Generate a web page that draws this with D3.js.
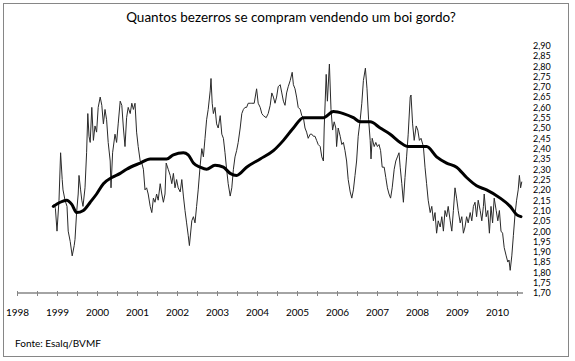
<!DOCTYPE html>
<html lang="pt">
<head>
    <meta charset="UTF-8">
    <title>Quantos bezerros se compram vendendo um boi gordo?</title>
    <script src="https://d3js.org/d3.v7.min.js"></script>
    <style>
        body { margin: 0; background: #fff; }
        svg text { font-family: Lato, "Open Sans", sans-serif; fill: #000; }
    </style>
</head>
<body>
    <div id="chart"></div>
    <script>
        // weekly ratio: boi gordo / bezerro
        const ratioDates = [
            1998.88, 1998.93, 1998.96, 1999.00, 1999.05, 1999.09, 1999.13, 1999.15, 1999.20, 1999.25,
            1999.28, 1999.33, 1999.38, 1999.43, 1999.45, 1999.49, 1999.53, 1999.55, 1999.59, 1999.62,
            1999.65, 1999.70, 1999.74, 1999.77, 1999.80, 1999.83, 1999.87, 1999.91, 1999.95, 1999.99,
            2000.03, 2000.08, 2000.12, 2000.16, 2000.20, 2000.24, 2000.28, 2000.33, 2000.35, 2000.39,
            2000.45, 2000.49, 2000.53, 2000.58, 2000.62, 2000.66, 2000.70, 2000.74, 2000.78, 2000.83,
            2000.87, 2000.91, 2000.95, 2000.99, 2001.03, 2001.08, 2001.12, 2001.16, 2001.20, 2001.24,
            2001.28, 2001.33, 2001.37, 2001.41, 2001.45, 2001.49, 2001.53, 2001.58, 2001.62, 2001.66,
            2001.70, 2001.73, 2001.78, 2001.83, 2001.87, 2001.91, 2001.95, 2001.99, 2002.03, 2002.08,
            2002.12, 2002.16, 2002.20, 2002.24, 2002.28, 2002.31, 2002.37, 2002.41, 2002.45, 2002.49,
            2002.53, 2002.58, 2002.62, 2002.66, 2002.70, 2002.74, 2002.78, 2002.83, 2002.85, 2002.88,
            2002.91, 2002.95, 2002.99, 2003.03, 2003.08, 2003.12, 2003.16, 2003.20, 2003.24, 2003.28,
            2003.33, 2003.37, 2003.41, 2003.45, 2003.49, 2003.53, 2003.58, 2003.62, 2003.66, 2003.70,
            2003.74, 2003.78, 2003.83, 2003.87, 2003.93, 2003.99, 2004.03, 2004.08, 2004.12, 2004.16,
            2004.23, 2004.28, 2004.33, 2004.37, 2004.41, 2004.45, 2004.49, 2004.53, 2004.58, 2004.62,
            2004.66, 2004.70, 2004.74, 2004.78, 2004.83, 2004.88, 2004.91, 2004.95, 2004.99, 2005.03,
            2005.08, 2005.12, 2005.16, 2005.20, 2005.24, 2005.28, 2005.33, 2005.37, 2005.41, 2005.45,
            2005.49, 2005.53, 2005.58, 2005.62, 2005.66, 2005.68, 2005.73, 2005.76, 2005.81, 2005.85,
            2005.89, 2005.93, 2005.97, 2005.99, 2006.03, 2006.08, 2006.12, 2006.16, 2006.20, 2006.24,
            2006.28, 2006.33, 2006.37, 2006.41, 2006.45, 2006.49, 2006.53, 2006.58, 2006.62, 2006.66,
            2006.71, 2006.75, 2006.79, 2006.83, 2006.85, 2006.88, 2006.93, 2006.97, 2007.01, 2007.05,
            2007.09, 2007.13, 2007.18, 2007.22, 2007.26, 2007.30, 2007.34, 2007.38, 2007.43, 2007.47,
            2007.51, 2007.55, 2007.58, 2007.62, 2007.66, 2007.70, 2007.74, 2007.78, 2007.83, 2007.85,
            2007.89, 2007.93, 2007.98, 2008.02, 2008.06, 2008.10, 2008.16, 2008.20, 2008.24, 2008.28,
            2008.33, 2008.37, 2008.41, 2008.45, 2008.49, 2008.53, 2008.58, 2008.62, 2008.66, 2008.70,
            2008.74, 2008.78, 2008.83, 2008.87, 2008.91, 2008.95, 2008.99, 2009.03, 2009.08, 2009.12,
            2009.16, 2009.20, 2009.24, 2009.28, 2009.33, 2009.37, 2009.41, 2009.45, 2009.49, 2009.53,
            2009.58, 2009.62, 2009.66, 2009.68, 2009.73, 2009.77, 2009.81, 2009.85, 2009.89, 2009.93,
            2009.98, 2010.02, 2010.06, 2010.10, 2010.14, 2010.18, 2010.23, 2010.27, 2010.30, 2010.33,
            2010.37, 2010.41, 2010.45, 2010.49, 2010.53, 2010.56, 2010.59, 2010.62
        ];
        const ratioValues = [
            2.12, 2.13, 2.11, 2.00, 2.15, 2.38, 2.25, 2.20, 2.15, 2.12,
            2.00, 1.95, 1.88, 1.93, 1.96, 2.09, 2.18, 2.27, 2.20, 2.15,
            2.12, 2.21, 2.38, 2.57, 2.46, 2.43, 2.60, 2.44, 2.51, 2.48,
            2.60, 2.65, 2.61, 2.52, 2.59, 2.54, 2.43, 2.34, 2.21, 2.38,
            2.47, 2.43, 2.52, 2.63, 2.61, 2.50, 2.41, 2.55, 2.60, 2.57,
            2.62, 2.59, 2.62, 2.48, 2.41, 2.34, 2.33, 2.30, 2.20, 2.21,
            2.18, 2.12, 2.09, 2.16, 2.14, 2.18, 2.15, 2.23, 2.18, 2.14,
            2.18, 2.33, 2.30, 2.27, 2.23, 2.28, 2.21, 2.25, 2.21, 2.19,
            2.25, 2.17, 2.10, 2.04, 1.98, 1.93, 2.05, 2.07, 2.04, 2.12,
            2.20, 2.32, 2.40, 2.36, 2.45, 2.54, 2.59, 2.68, 2.74, 2.62,
            2.57, 2.60, 2.52, 2.50, 2.56, 2.47, 2.45, 2.38, 2.30, 2.23,
            2.17, 2.21, 2.30, 2.36, 2.39, 2.43, 2.50, 2.57, 2.59, 2.60,
            2.60, 2.62, 2.62, 2.62, 2.62, 2.69, 2.62, 2.60, 2.57, 2.56,
            2.55, 2.57, 2.61, 2.67, 2.65, 2.62, 2.65, 2.70, 2.71, 2.67,
            2.63, 2.61, 2.67, 2.70, 2.73, 2.77, 2.71, 2.69, 2.65, 2.60,
            2.59, 2.56, 2.55, 2.50, 2.48, 2.45, 2.47, 2.47, 2.46, 2.46,
            2.44, 2.42, 2.41, 2.36, 2.34, 2.50, 2.76, 2.63, 2.81, 2.59,
            2.49, 2.53, 2.50, 2.41, 2.50, 2.46, 2.42, 2.43, 2.39, 2.34,
            2.25, 2.19, 2.16, 2.20, 2.27, 2.34, 2.46, 2.54, 2.62, 2.73,
            2.79, 2.69, 2.54, 2.44, 2.35, 2.45, 2.41, 2.43, 2.41, 2.42,
            2.39, 2.31, 2.31, 2.26, 2.21, 2.18, 2.16, 2.21, 2.30, 2.34,
            2.36, 2.38, 2.31, 2.23, 2.14, 2.26, 2.36, 2.47, 2.65, 2.66,
            2.52, 2.44, 2.51, 2.49, 2.44, 2.45, 2.41, 2.31, 2.23, 2.15,
            2.09, 2.12, 2.05, 2.09, 1.99, 2.05, 2.02, 2.07, 2.00, 2.10,
            2.07, 2.12, 2.05, 2.00, 2.10, 2.21, 2.16, 2.10, 2.04, 2.07,
            1.99, 2.02, 2.07, 2.04, 2.09, 2.05, 2.12, 2.14, 2.07, 2.15,
            2.10, 2.05, 2.12, 2.18, 2.07, 2.10, 1.99, 2.12, 2.04, 2.16,
            2.10, 2.05, 2.10, 2.00, 1.99, 1.92, 1.88, 1.85, 1.86, 1.81,
            1.88, 1.98, 2.08, 2.15, 2.20, 2.27, 2.21, 2.24
        ];

        // moving average (thick line)
        const avgDates = [
            1998.91, 1999.08, 1999.24, 1999.37, 1999.49, 1999.66, 1999.83, 1999.99, 2000.16, 2000.37,
            2000.58, 2000.74, 2001.08, 2001.33, 2001.74, 2001.91, 2002.16, 2002.28, 2002.41, 2002.58,
            2002.74, 2002.95, 2003.16, 2003.33, 2003.49, 2003.74, 2004.08, 2004.41, 2004.66, 2004.91,
            2005.16, 2005.41, 2005.66, 2005.91, 2006.16, 2006.41, 2006.58, 2006.83, 2007.08, 2007.33,
            2007.58, 2007.78, 2008.08, 2008.24, 2008.49, 2008.74, 2008.99, 2009.24, 2009.49, 2009.74,
            2010.08, 2010.33, 2010.49, 2010.60
        ];
        const avgValues = [
            2.12, 2.14, 2.15, 2.13, 2.09, 2.10, 2.14, 2.18, 2.23, 2.26,
            2.28, 2.30, 2.33, 2.35, 2.35, 2.37, 2.38, 2.37, 2.33, 2.31,
            2.30, 2.32, 2.31, 2.28, 2.27, 2.31, 2.35, 2.39, 2.44, 2.50,
            2.55, 2.55, 2.55, 2.58, 2.57, 2.55, 2.53, 2.53, 2.50, 2.47,
            2.43, 2.41, 2.41, 2.41, 2.36, 2.33, 2.31, 2.26, 2.22, 2.20,
            2.16, 2.12, 2.08, 2.07
        ];

        const xYears = [1998, 1999, 2000, 2001, 2002, 2003, 2004, 2005, 2006, 2007, 2008, 2009, 2010];
        const yTicks = [1.70, 1.75, 1.80, 1.85, 1.90, 1.95, 2.00, 2.05, 2.10, 2.15, 2.20, 2.25, 2.30,
                        2.35, 2.40, 2.45, 2.50, 2.55, 2.60, 2.65, 2.70, 2.75, 2.80, 2.85, 2.90];

        const width = 575, height = 361;

        const svg = d3.select("#chart")
            .append("svg")
            .attr("width", width)
            .attr("height", height);

        // chart area border
        svg.append("rect")
            .attr("x", 3.5).attr("y", 3.5)
            .attr("width", 565).attr("height", 353)
            .attr("fill", "#fff")
            .attr("stroke", "#868686")
            .attr("stroke-width", 1);

        svg.append("text")
            .attr("x", 291).attr("y", 22)
            .attr("text-anchor", "middle")
            .style("font-size", "13.5px")
            .text("Quantos bezerros se compram vendendo um boi gordo?");

        const x = d3.scaleLinear()
            .domain([1998, 2010.65])
            .range([17, 523]);

        const y = d3.scaleLinear()
            .domain([1.70, 2.90])
            .range([293, 45.5]);

        // x axis: ticks every half year, labels on years
        const halfYears = d3.range(1998, 2010.6, 0.5);
        const xAxis = svg.append("g")
            .attr("transform", `translate(0,${y(1.70)})`)
            .call(d3.axisBottom(x)
                .tickValues(halfYears)
                .tickSize(3)
                .tickPadding(13)
                .tickFormat(d => xYears.includes(d) ? d : ""));
        xAxis.select(".domain")
            .attr("d", `M${x.range()[0]},0H${x.range()[1]}`)
            .attr("stroke", "#868686")
            .attr("stroke-width", 1.5);
        xAxis.selectAll(".tick line")
            .attr("y1", -2)
            .attr("stroke", "#868686");
        xAxis.selectAll(".tick text")
            .style("font-size", "10px");

        // y labels on the right, no line
        const fmt = d3.format(".2f");
        const yAxis = svg.append("g")
            .attr("transform", `translate(530,0)`)
            .call(d3.axisRight(y)
                .tickValues(yTicks)
                .tickSize(0)
                .tickPadding(3)
                .tickFormat(d => fmt(d).replace(".", ",")));
        yAxis.select(".domain").remove();
        yAxis.selectAll(".tick text")
            .style("font-size", "9px");

        const ratio = ratioDates.map((d, i) => ({ t: d, v: ratioValues[i] }));
        const avg = avgDates.map((d, i) => ({ t: d, v: avgValues[i] }));

        svg.append("path")
            .datum(ratio)
            .attr("fill", "none")
            .attr("stroke", "#2a2a2a")
            .attr("stroke-width", 1)
            .attr("stroke-linejoin", "round")
            .attr("d", d3.line()
                .x(d => x(d.t))
                .y(d => y(d.v)));

        svg.append("path")
            .datum(avg)
            .attr("fill", "none")
            .attr("stroke", "#000")
            .attr("stroke-width", 3)
            .attr("stroke-linecap", "round")
            .attr("d", d3.line()
                .curve(d3.curveMonotoneX)
                .x(d => x(d.t))
                .y(d => y(d.v)));

        svg.append("text")
            .attr("x", 15).attr("y", 347)
            .style("font-size", "10px")
            .text("Fonte: Esalq/BVMF");
    </script>
</body>
</html>
